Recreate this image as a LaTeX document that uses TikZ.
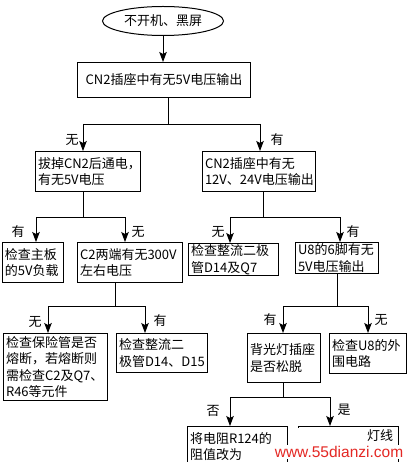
\documentclass[tikz,border=0pt]{standalone}
\usepackage{fontspec}
\newfontfamily\cjk{Noto Sans CJK SC}
\newfontfamily\wmfont{Liberation Sans}
\usetikzlibrary{shapes.geometric,arrows.meta}
\definecolor{wmred}{RGB}{228,40,36}
\begin{document}
\begin{tikzpicture}[x=1pt,y=-1pt,
  every node/.style={font=\cjk\fontsize{13}{16.5}\selectfont},
  bx/.style={draw, line width=1pt, anchor=north west, inner xsep=2.5pt, inner ysep=1pt, align=left},
  lbl/.style={inner sep=0pt},
  conn/.style={line width=0.9pt},
  arr/.style={conn, -{Stealth[length=10pt,width=7.5pt,inset=2pt]}}]
\useasboundingbox (0,0) rectangle (408,462);
\fill[white] (0,0) rectangle (408,462);
\clip (0,0) rectangle (408,462);

% start
\node[draw, line width=1pt, ellipse, minimum width=121, minimum height=29, inner sep=0pt] (s) at (163,21) {不开机、黑屏};
\node[bx, minimum width=173, minimum height=35, text width=168, align=center] (b1) at (77,62) {CN2插座中有无5V电压输出};
\draw[arr] (s.south) -- (s.south |- b1.north);

% level 2
\node[bx, minimum width=105, minimum height=40, text width=100] (b2l) at (35,151) {拔掉CN2后通电，\\有无5V电压};
\node[bx, minimum width=113, minimum height=40, text width=108] (b2r) at (202,151) {CN2插座中有无\\12V、24V电压输出};
\coordinate (j1) at (168,124);
\coordinate (j1l) at (83,124);
\coordinate (j1r) at (260,124);
\draw[conn] (j1 |- b1.south) -- (j1);
\draw[conn] (j1l) -- (j1r);
\draw[arr] (j1l) -- (j1l |- b2l.north);
\draw[arr] (j1r) -- (j1r |- b2r.north);
\node[lbl] (t1) at (72,140) {无};
\node[lbl] (t2) at (277,140) {有};

% level 3
\node[bx, minimum width=61, minimum height=40, text width=56] (b3a) at (2,242) {检查主板\\的5V负载};
\node[bx, minimum width=105, minimum height=40, text width=100] (b3b) at (77,242) {C2两端有无300V\\左右电压};
\node[bx, minimum width=90, minimum height=30, text width=85] (b3c) at (188,243) {检查整流二极\\管D14及Q7};
\node[bx, minimum width=83, minimum height=31, text width=78] (b3d) at (295,242) {U8的6脚有无\\5V电压输出};
\coordinate (j2) at (83,217);
\coordinate (j2l) at (36,217);
\coordinate (j2r) at (125,217);
\draw[conn] (j2 |- b2l.south) -- (j2);
\draw[conn] (j2l) -- (j2r);
\draw[arr] (j2l) -- (j2l |- b3a.north);
\draw[arr] (j2r) -- (j2r |- b3b.north);
\node[lbl] (t3) at (18,232) {有};
\node[lbl] (t4) at (138,232) {无};
\coordinate (j3) at (263,217);
\coordinate (j3l) at (230,217);
\coordinate (j3r) at (340,217);
\draw[conn] (j3 |- b2r.south) -- (j3);
\draw[conn] (j3l) -- (j3r);
\draw[arr] (j3l) -- (j3l |- b3c.north);
\draw[arr] (j3r) -- (j3r |- b3d.north);
\node[lbl] (t5) at (218,232) {无};
\node[lbl] (t6) at (353,232) {有};

% level 4
\node[bx, minimum width=104, minimum height=67, text width=99] (b4a) at (3,333) {检查保险管是否\\熔断，若熔断则\\需检查C2及Q7、\\R46等元件};
\node[bx, minimum width=91, minimum height=39, text width=86] (b4b) at (116,333) {检查整流二\\极管D14、D15};
\node[bx, minimum width=73, minimum height=49, text width=68] (b4c) at (247,333) {背光灯插座\\是否松脱};
\node[bx, minimum width=77, minimum height=40, text width=72] (b4d) at (329,333) {检查U8的外\\围电路};
\coordinate (j4) at (115,306);
\coordinate (j4l) at (48,306);
\coordinate (j4r) at (145,306);
\draw[conn] (j4 |- b3b.south) -- (j4);
\draw[conn] (j4l) -- (j4r);
\draw[arr] (j4l) -- (j4l |- b4a.north);
\draw[arr] (j4r) -- (j4r |- b4b.north);
\node[lbl] (t7) at (35,322) {无};
\node[lbl] (t8) at (160,321) {有};
\coordinate (j5) at (337,306);
\coordinate (j5l) at (283,306);
\coordinate (j5r) at (368,306);
\draw[conn] (j5 |- b3d.south) -- (j5);
\draw[conn] (j5l) -- (j5r);
\draw[arr] (j5l) -- (j5l |- b4c.north);
\draw[arr] (j5r) -- (j5r |- b4d.north);
\node[lbl] (t9) at (270,320) {有};
\node[lbl] (t10) at (381,320) {无};

% level 5
\node[bx, minimum width=100, minimum height=40, text width=95, anchor=north west] (b5a) at (187,426) {将电阻R124的\\阻值改为};
\node[bx, minimum width=100, minimum height=40, anchor=north west] (b5b) at (298,426) {};
\node[lbl] (t5b) at (380,436) {灯线};
\coordinate (j6) at (283,397);
\coordinate (j6l) at (230,397);
\coordinate (j6r) at (330,397);
\draw[conn] (j6 |- b4c.south) -- (j6);
\draw[conn] (j6l) -- (j6r);
\draw[arr] (j6l) -- (j6l |- b5a.north);
\draw[arr] (j6r) -- (j6r |- b5b.north);
\node[lbl] (t11) at (213,411) {否};
\node[lbl] (t12) at (344,410) {是};

% obscured region and watermark
\fill[white] (292,428) rectangle (358,462);
\node[fill=white, inner sep=1pt, text=wmred, font=\wmfont\fontsize{15.5}{16}\selectfont] (wm) at (339,452) {www.55dianzi.com};
\end{tikzpicture}
\end{document}
